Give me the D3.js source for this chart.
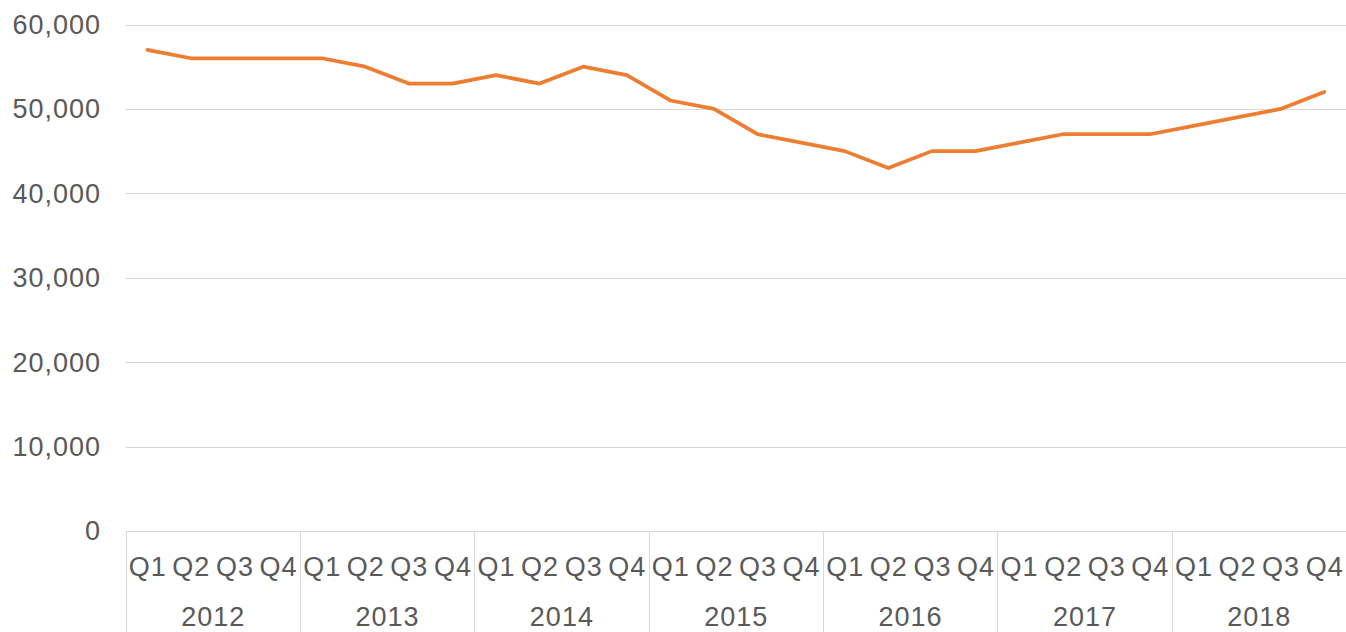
<!DOCTYPE html>
<html>
<head>
<meta charset="utf-8">
<script src="https://cdn.jsdelivr.net/npm/d3@7"></script>
<style>
	body { margin: 0; background: #fff; }
	text { font-family: "Liberation Sans", Arial, sans-serif; fill: #595959; font-size: 27px; letter-spacing: 1px; }
</style>
</head>
<body>
<svg id="viz"></svg>
<script>
// chart data
const years = ["2012", "2013", "2014", "2015", "2016", "2017", "2018"];
const quarters = ["Q1", "Q2", "Q3", "Q4"];
const values = [
	57000, 56000, 56000, 56000,
	56000, 55000, 53000, 53000,
	54000, 53000, 55000, 54000,
	51000, 50000, 47000, 46000,
	45000, 43000, 45000, 45000,
	46000, 47000, 47000, 47000,
	48000, 49000, 50000, 52000
];
const yTicks = [0, 10000, 20000, 30000, 40000, 50000, 60000];

const width = 1346;
const height = 632;

const margin = { top: 24.5, right: 0, bottom: 101, left: 125.5 };

const svg = d3.select("svg#viz")
	.attr("width", width)
	.attr("height", height);

// one entry per quarter
const data = [];
years.forEach((yr, i) => {
	quarters.forEach((q, j) => {
		data.push({ key: yr + "-" + q, year: yr, quarter: q, value: values[i * 4 + j] });
	});
});

const x = d3.scaleBand()
	.domain(data.map(d => d.key))
	.range([margin.left, width - margin.right])
	.padding(0);

const xYear = d3.scaleBand()
	.domain(years)
	.range([margin.left, width - margin.right])
	.padding(0);

const y = d3.scaleLinear()
	.domain([0, 60000])
	.range([height - margin.bottom, margin.top]);

// gridlines
svg.append("g").attr("id", "grid")
	.selectAll("line")
	.data(yTicks.filter(d => d > 0))
	.join("line")
	.attr("x1", margin.left)
	.attr("x2", width - margin.right)
	.attr("y1", d => Math.round(y(d)) + 0.5)
	.attr("y2", d => Math.round(y(d)) + 0.5)
	.attr("stroke", "#d9d9d9")
	.attr("stroke-width", 1);

// y labels
svg.append("g").attr("id", "y-axis")
	.selectAll("text")
	.data(yTicks)
	.join("text")
	.attr("x", 101)
	.attr("y", d => y(d))
	.attr("dy", "0.35em")
	.attr("text-anchor", "end")
	.text(d => d3.format(",")(d));

// x axis frame
const xAxis = svg.append("g").attr("id", "x-axis");
const baseY = Math.round(y(0)) + 0.5;

xAxis.append("line")
	.attr("x1", margin.left)
	.attr("x2", width)
	.attr("y1", baseY)
	.attr("y2", baseY)
	.attr("stroke", "#d9d9d9");

xAxis.selectAll("line.divider")
	.data(years)
	.join("line")
	.attr("class", "divider")
	.attr("x1", d => Math.round(xYear(d)) + 0.5)
	.attr("x2", d => Math.round(xYear(d)) + 0.5)
	.attr("y1", baseY)
	.attr("y2", height)
	.attr("stroke", "#d9d9d9");

xAxis.selectAll("text.quarter")
	.data(data)
	.join("text")
	.attr("class", "quarter")
	.attr("x", d => x(d.key) + x.bandwidth() / 2 + 0.5)
	.attr("y", 567)
	.attr("dy", "0.35em")
	.attr("text-anchor", "middle")
	.text(d => d.quarter);

xAxis.selectAll("text.year")
	.data(years)
	.join("text")
	.attr("class", "year")
	.attr("x", d => xYear(d) + xYear.bandwidth() / 2 + 0.5)
	.attr("y", 617)
	.attr("dy", "0.35em")
	.attr("text-anchor", "middle")
	.text(d => d);

// the line
const line = d3.line()
	.x(d => x(d.key) + x.bandwidth() / 2)
	.y(d => y(d.value));

svg.append("path")
	.datum(data)
	.attr("fill", "none")
	.attr("stroke", "#ED7D31")
	.attr("stroke-width", 3.75)
	.attr("stroke-linejoin", "round")
	.attr("stroke-linecap", "round")
	.attr("d", line);
</script>
</body>
</html>
